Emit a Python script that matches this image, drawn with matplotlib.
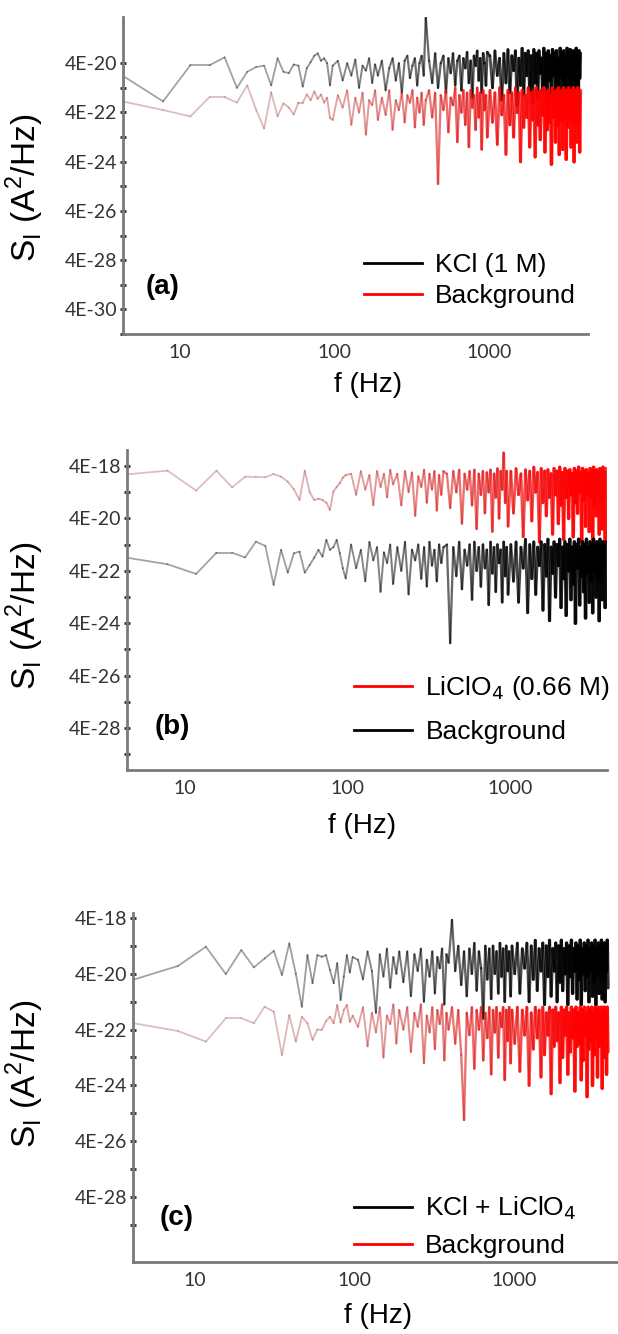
import numpy as np
import matplotlib
matplotlib.use('Agg')
import matplotlib.pyplot as plt
from matplotlib.collections import LineCollection
from matplotlib.lines import Line2D

plt.rcParams['font.family'] = ['Liberation Sans', 'DejaVu Sans']

# FFT bin numbers used for the traces (frequency = bin * df)
df = 3.9
bins = [1, 2, 3, 4, 5, 6, 7, 8, 9, 10, 11, 12, 13, 14, 15, 16, 17, 18, 19, 20, 21, 22, 23, 24, 25,
        27, 29, 31, 33, 35, 37, 39, 41, 43, 45, 47, 49,
        52, 55, 58, 61, 64, 67, 70, 73, 76, 79, 82, 85, 88, 91, 94, 97, 100,
        105, 110, 115, 120, 125, 130, 135, 140, 145, 150, 155, 160, 165, 170, 175, 180,
        185, 190, 195, 200, 205, 210, 215, 220, 225, 230, 235, 240, 245, 250,
        260, 270, 280, 290, 300, 310, 320, 330, 340, 350, 360, 370, 380, 390, 400,
        410, 420, 430, 440, 450, 460, 470, 480, 490, 500, 510, 520, 530, 540, 550,
        560, 570, 580, 590, 600, 610, 620, 630, 640, 650, 660, 670, 680, 690, 700,
        710, 720, 730, 740, 750, 760, 770, 780, 790, 800, 810, 820, 830, 840, 850,
        860, 870, 880, 890, 900, 910, 920, 930, 940, 950, 960, 970, 980, 990, 1000]

# log10 of S_I (A^2/Hz)
a_kcl = [-19.75, -20.95, -19.48, -19.48, -19.16, -20.4, -19.75, -19.55, -19.5, -20.3,
         -19.2, -19.75, -19.8, -19.45, -19.5, -20.35, -19.6, -19.35, -19.1, -19.0,
         -19.3, -19.2, -19.4, -20.3, -19.5,
         -19.3, -20.1, -19.4, -19.9, -19.25, -20.4, -19.5, -19.7, -19.2, -20.2, -19.45, -19.9,
         -19.3, -20.5, -19.6, -19.2, -20.1, -19.4, -20.6, -19.3, -19.1, -20.0, -19.5, -19.2,
         -20.3, -19.4, -19.1, -19.9, -17.55,
         -19.3, -20.2, -19.0, -20.4, -19.4, -19.1, -20.6, -19.2, -19.8, -19.0, -20.3, -19.3,
         -19.1, -20.5, -19.2, -19.6, -18.95, -20.2, -19.3, -20.8, -19.1, -19.5, -18.9, -20.1,
         -19.2, -20.6, -19.0, -19.4, -20.3, -18.95,
         -19.1, -20.4, -18.9, -19.9, -19.2, -20.9, -19.0, -20.2, -18.85, -20.6, -19.1, -19.7,
         -18.9, -21.1, -19.2, -20.3, -18.8, -20.7, -19.0, -19.9, -18.9, -20.5, -19.1, -21.0,
         -18.85, -20.2, -19.0, -20.8, -18.9, -19.8,
         -19.2, -20.6, -18.8, -20.3, -19.0, -21.2, -18.9, -20.1, -19.1, -20.7, -18.85, -19.9,
         -19.0, -20.9, -18.9, -20.4, -19.2, -20.8, -18.8, -20.0, -19.0, -21.0, -18.9, -20.3,
         -19.1, -20.6, -18.8, -19.9, -19.0, -20.9,
         -18.85, -20.2, -19.1, -20.7, -18.9, -20.1, -19.0, -21.1, -18.8, -20.4, -19.1, -20.6,
         -18.9, -20.0, -19.0]
a_bg = [-20.9, -21.3, -21.56, -20.77, -20.77, -21.0, -20.3, -21.3, -22.05, -20.58,
        -21.56, -21.03, -21.2, -21.48, -21.0, -21.0, -20.67, -20.9, -20.55, -20.85,
        -20.67, -21.0, -20.8, -21.62, -21.7,
        -20.7, -21.2, -20.5, -21.9, -20.8, -21.4, -20.6, -22.3, -20.9, -21.1, -20.5, -21.7,
        -20.8, -21.5, -20.5, -22.1, -20.9, -21.3, -20.6, -21.8, -20.7, -21.0, -20.5, -22.0,
        -20.8, -21.4, -20.6, -21.9, -20.9,
        -20.5, -21.6, -20.6, -24.3, -20.7, -21.3, -20.5, -22.2, -20.8, -21.1, -20.4, -22.6,
        -20.7, -21.4, -20.5, -21.9, -20.6, -22.8, -20.5, -21.2, -20.7, -22.1, -20.4, -21.6,
        -20.6, -22.9, -20.5, -21.3, -20.7, -22.4,
        -20.5, -21.8, -20.6, -22.7, -20.4, -21.5, -20.7, -23.1, -20.5, -21.9, -20.6, -22.4,
        -20.4, -21.4, -20.6, -23.4, -20.5, -22.0, -20.7, -21.6, -20.4, -22.8, -20.6, -21.7,
        -20.5, -23.2, -20.4, -21.9, -20.6, -22.5,
        -20.5, -21.5, -20.4, -23.0, -20.6, -22.1, -20.5, -21.8, -20.7, -23.5, -20.4, -21.6,
        -20.6, -22.6, -20.5, -21.9, -20.4, -23.1, -20.6, -21.7, -20.5, -22.9, -20.4, -21.6,
        -20.6, -23.3, -20.5, -22.0, -20.4, -21.7,
        -20.6, -22.8, -20.5, -21.8, -20.4, -23.4, -20.6, -21.9, -20.5, -22.6, -20.4, -21.7,
        -20.6, -23.0, -20.5]

b_licl = [-17.75, -17.58, -18.34, -17.58, -18.22, -17.81, -17.82, -17.83, -17.71, -17.81,
          -18.0, -18.29, -18.7, -17.58, -18.4, -18.7, -18.65, -18.7, -18.8, -19.08,
          -18.38, -18.2, -18.06, -17.85, -17.75,
          -17.7, -18.5, -17.6, -18.3, -17.75, -18.9, -17.6, -18.2, -17.7, -18.6, -17.55, -18.1,
          -17.7, -18.9, -17.6, -18.4, -17.65, -19.3, -17.8, -18.2, -17.55, -18.8, -17.7, -18.3,
          -17.6, -19.1, -17.75, -18.5, -17.6,
          -17.7, -19.0, -17.6, -18.4, -17.55, -19.6, -17.7, -18.3, -17.6, -18.9, -17.55, -19.8,
          -17.7, -18.5, -17.6, -19.2, -17.65, -18.4, -17.55, -19.9, -17.7, -18.6, -17.5, -19.4,
          -17.6, -18.3, -16.9, -18.8, -17.6, -19.7,
          -17.6, -19.2, -17.5, -18.5, -17.7, -20.1, -17.55, -18.7, -17.6, -19.5, -17.45, -18.4,
          -17.65, -20.3, -17.5, -18.8, -17.6, -19.3, -17.55, -18.6, -17.7, -20.0, -17.5, -18.5,
          -17.6, -19.6, -17.45, -18.9, -17.65, -20.2,
          -17.5, -18.6, -17.6, -19.4, -17.55, -18.5, -17.7, -20.1, -17.5, -18.8, -17.6, -19.2,
          -17.45, -18.4, -17.65, -20.3, -17.5, -18.7, -17.6, -19.7, -17.55, -18.5, -17.7, -19.9,
          -17.5, -18.6, -17.6, -20.2, -17.45, -18.9,
          -17.6, -19.3, -17.55, -18.5, -17.7, -20.0, -17.5, -18.7, -17.6, -19.8, -17.45, -18.6,
          -17.65, -20.3, -17.5]
b_bg = [-20.85, -21.15, -21.52, -20.71, -20.71, -20.89, -20.29, -20.45, -21.94, -20.6,
        -21.47, -20.73, -20.67, -21.47, -21.18, -20.9, -20.6, -20.86, -20.22, -20.6,
        -20.5, -20.22, -20.73, -21.3, -21.69,
        -20.4, -21.3, -20.6, -21.8, -20.3, -21.0, -20.5, -22.2, -20.7, -21.1, -20.4, -21.9,
        -20.5, -21.4, -20.3, -22.3, -20.6, -21.0, -20.4, -21.7, -20.5, -22.0, -20.3, -21.2,
        -20.6, -21.8, -20.4, -21.1, -20.5,
        -20.4, -24.16, -20.5, -21.6, -20.3, -22.1, -20.6, -21.2, -20.4, -22.5, -20.3, -21.4,
        -20.5, -22.0, -20.4, -21.3, -20.6, -22.7, -20.3, -21.5, -20.5, -22.2, -20.4, -21.1,
        -20.6, -22.6, -20.3, -21.6, -20.5, -22.3,
        -20.4, -21.8, -20.3, -22.6, -20.5, -21.3, -20.2, -23.0, -20.4, -21.7, -20.3, -22.3,
        -20.5, -21.2, -20.3, -22.9, -20.4, -21.6, -20.2, -23.3, -20.5, -21.5, -20.3, -22.4,
        -20.4, -21.2, -20.2, -22.8, -20.5, -21.7,
        -20.3, -23.1, -20.4, -21.4, -20.2, -22.5, -20.5, -21.9, -20.3, -23.4, -20.4, -21.3,
        -20.2, -22.7, -20.5, -21.6, -20.3, -22.2, -20.4, -23.2, -20.2, -21.5, -20.5, -22.6,
        -20.3, -21.8, -20.4, -23.0, -20.2, -21.4,
        -20.5, -22.4, -20.3, -21.7, -20.4, -23.3, -20.2, -21.9, -20.5, -22.5, -20.3, -21.3,
        -20.4, -22.8, -20.3]

c_mix = [-19.65, -19.12, -18.43, -19.41, -18.55, -19.17, -18.85, -18.58, -19.44, -18.31,
         -19.4, -20.58, -18.73, -19.74, -18.73, -18.79, -18.73, -19.26, -19.74, -19.02,
         -20.34, -19.5, -18.73, -19.35, -18.8,
         -18.9, -19.6, -18.6, -19.3, -20.8, -18.7, -19.5, -18.5, -19.9, -18.8, -19.4, -18.6,
         -19.7, -18.6, -20.2, -18.7, -19.3, -18.5, -20.4, -18.9, -19.5, -18.6, -20.1, -18.8,
         -19.2, -18.5, -20.5, -18.7, -19.0,
         -17.47, -19.3, -18.4, -19.8, -18.6, -20.2, -18.5, -19.4, -18.3, -20.0, -18.6, -19.2,
         -21.0, -18.4, -19.6, -18.5, -20.3, -18.4, -19.4, -18.6, -20.1, -18.3, -19.5, -18.5,
         -20.4, -18.4, -19.3, -18.6, -20.2, -18.4,
         -19.4, -18.3, -20.1, -18.5, -19.2, -18.3, -20.4, -18.4, -19.6, -18.2, -20.0, -18.5,
         -19.3, -18.3, -20.5, -18.4, -19.5, -18.2, -20.2, -18.5, -19.3, -18.3, -20.4, -18.4,
         -19.7, -18.2, -20.0, -18.5, -19.4, -18.3,
         -20.5, -18.4, -19.5, -18.2, -20.1, -18.5, -19.3, -18.3, -20.3, -18.4, -19.6, -18.2,
         -20.5, -18.5, -19.4, -18.3, -20.0, -18.4, -19.5, -18.2, -20.4, -18.5, -19.3, -18.3,
         -20.2, -18.4, -19.7, -18.2, -20.5, -18.5,
         -19.4, -18.3, -20.1, -18.4, -19.5, -18.2, -20.3, -18.5, -19.6, -18.3, -20.4, -18.4,
         -19.3, -18.2, -19.9]
c_bg = [-21.15, -21.45, -21.83, -20.99, -20.99, -21.17, -20.58, -20.76, -22.31, -20.88,
        -21.83, -20.94, -21.17, -21.77, -21.4, -21.41, -21.1, -20.94, -21.17, -20.52,
        -21.15, -20.7, -20.52, -21.12, -20.9,
        -21.3, -20.6, -22.0, -20.8, -21.5, -20.6, -22.4, -20.9, -21.2, -20.5, -21.9, -20.7,
        -21.4, -20.6, -22.2, -20.8, -21.3, -20.5, -22.6, -20.9, -21.5, -20.6, -22.1, -20.7,
        -21.2, -20.5, -22.5, -20.8, -21.4,
        -20.6, -21.9, -20.7, -22.3, -24.64, -20.8, -21.6, -20.6, -22.8, -20.7, -21.4, -20.6,
        -22.5, -20.8, -21.7, -20.6, -23.0, -20.7, -21.5, -20.6, -22.4, -20.8, -21.3, -20.6,
        -23.2, -20.7, -21.8, -20.6, -22.6, -20.7,
        -21.9, -20.6, -22.9, -20.7, -21.6, -20.6, -23.4, -20.8, -22.1, -20.6, -21.7, -20.7,
        -23.1, -20.6, -22.3, -20.8, -21.6, -20.6, -23.7, -20.7, -22.0, -20.6, -21.8, -20.8,
        -23.3, -20.6, -22.4, -20.7, -21.6, -20.6,
        -23.0, -20.8, -22.2, -20.6, -21.7, -20.7, -23.6, -20.6, -22.0, -20.8, -21.9, -20.6,
        -23.2, -20.7, -22.5, -20.6, -21.6, -20.8, -23.8, -20.6, -22.1, -20.7, -21.8, -20.6,
        -23.4, -20.8, -22.3, -20.6, -21.7, -20.7,
        -23.1, -20.6, -22.0, -20.8, -21.9, -20.6, -23.5, -20.7, -22.4, -20.6, -21.6, -20.8,
        -23.0, -20.6, -22.2]

for s in (a_kcl, a_bg, b_licl, b_bg, c_mix, c_bg):
    assert len(s) == len(bins), len(s)

freq = np.array(bins) * df

tick_font = ['Lato', 'DejaVu Sans']
# (faint colour for isolated low-frequency segments, full colour in the dense band)
BLACK = ((0.0, 0.0, 0.0), (0.0, 0.0, 0.0))
RED = ((0.62, 0.30, 0.30), (1.0, 0.0, 0.0))


def draw_trace(ax, f, logS, colors):
    s = 10.0 ** np.asarray(logS)
    pts = np.column_stack([f, s])
    segs = np.stack([pts[:-1], pts[1:]], axis=1)
    fmid = np.log10(np.sqrt(f[:-1] * f[1:]))
    t = np.clip((fmid - 1.4) / 2.0, 0, 1)
    lo, hi = np.array(colors[0]), np.array(colors[1])
    rgb = lo[None, :] * (1 - t[:, None]) + hi[None, :] * t[:, None]
    alpha = 0.36 + 0.46 * t ** 1.4
    rgba = np.column_stack([rgb, alpha])
    lw = 1.3 + 1.2 * t ** 2.5
    lc = LineCollection(segs, colors=rgba, linewidths=lw, capstyle='round',
                        joinstyle='round')
    ax.add_collection(lc)


def style_axes(ax, xlim, ylim_exp, ytick_exps):
    ax.set_xscale('log')
    ax.set_yscale('log')
    ax.set_xlim(*xlim)
    ax.set_ylim(10.0 ** ylim_exp[0], 10.0 ** ylim_exp[1])
    for side in ('top', 'right'):
        ax.spines[side].set_visible(False)
    for side in ('left', 'bottom'):
        ax.spines[side].set_color('#7a7a7a')
        ax.spines[side].set_linewidth(2)
    ax.set_xticks([10, 100, 1000])
    ax.set_xticklabels(['10', '100', '1000'], family=tick_font, fontsize=14,
                       color='#333333')
    ax.xaxis.set_minor_locator(matplotlib.ticker.NullLocator())
    ax.tick_params(axis='x', which='both', length=0, pad=7)
    ax.set_yticks([4 * 10.0 ** e for e in ytick_exps])
    ax.set_yticklabels(['4E%d' % e for e in ytick_exps], family=tick_font,
                       fontsize=14, color='#333333')
    ax.set_yticks([4 * 10.0 ** (e - 1) for e in ytick_exps], minor=True)
    ax.yaxis.set_minor_formatter(matplotlib.ticker.NullFormatter())
    ax.tick_params(axis='y', which='both', length=4, width=2, color='#333333',
                   direction='inout', pad=2)


def add_legend(ax, labels, colors, anchor, spacing):
    handles = [Line2D([], [], color=c, lw=2) for c in colors]
    ax.legend(handles, labels, loc='upper left', bbox_to_anchor=anchor,
              frameon=False, fontsize=19, handlelength=2.2, handletextpad=0.5,
              labelspacing=spacing, borderpad=0, borderaxespad=0)


fig = plt.figure(figsize=(6.18, 13.34), dpi=100)
fig.patch.set_facecolor('white')

ylab = r'S$_\mathregular{I}$ (A$^\mathregular{2}$/Hz)'

# (a) KCl
ax1 = fig.add_axes([0.199, 0.7496, 0.752, 0.2377])
style_axes(ax1, (4.29, 4350), (-29.95, -17.52), [-20, -22, -24, -26, -28, -30])
draw_trace(ax1, freq, a_kcl, BLACK)
draw_trace(ax1, freq, a_bg, RED)
add_legend(ax1, ['KCl (1 M)', 'Background'], ['black', 'red'], (0.518, 0.255), 0.25)
ax1.text(0.086, 0.148, '(a)', transform=ax1.transAxes, fontsize=20,
         fontweight='bold', ha='center', va='center')
ax1.set_ylabel(ylab, fontsize=24)
ax1.yaxis.set_label_coords(-0.165, 0.46)
ax1.set_xlabel('f (Hz)', fontsize=20)
ax1.xaxis.set_label_coords(0.527, -0.121)

# (b) LiClO4
ax2 = fig.add_axes([0.2055, 0.4228, 0.777, 0.2399])
style_axes(ax2, (4.39, 3975), (-29.0, -16.79), [-18, -20, -22, -24, -26, -28])
draw_trace(ax2, freq, b_licl, RED)
draw_trace(ax2, freq, b_bg, BLACK)
add_legend(ax2, [r'LiClO$_4$ (0.66 M)', 'Background'], ['red', 'black'], (0.473, 0.30), 0.7)
ax2.text(0.094, 0.134, '(b)', transform=ax2.transAxes, fontsize=20,
         fontweight='bold', ha='center', va='center')
ax2.set_ylabel(ylab, fontsize=24)
ax2.yaxis.set_label_coords(-0.168, 0.48)
ax2.set_xlabel('f (Hz)', fontsize=20)
ax2.xaxis.set_label_coords(0.49, -0.134)

# (c) KCl + LiClO4
ax3 = fig.add_axes([0.215, 0.054, 0.785, 0.2616])
style_axes(ax3, (4.07, 4510), (-29.73, -17.22), [-18, -20, -22, -24, -26, -28])
draw_trace(ax3, freq, c_mix, BLACK)
draw_trace(ax3, freq, c_bg, RED)
add_legend(ax3, [r'KCl + LiClO$_4$', 'Background'], ['black', 'red'], (0.455, 0.192), 0.45)
ax3.text(0.091, 0.126, '(c)', transform=ax3.transAxes, fontsize=20,
         fontweight='bold', ha='center', va='center')
ax3.set_ylabel(ylab, fontsize=24)
ax3.yaxis.set_label_coords(-0.18, 0.54)
ax3.set_xlabel('f (Hz)', fontsize=20)
ax3.xaxis.set_label_coords(0.506, -0.117)

fig.savefig('out.png', dpi=100, facecolor='white')
